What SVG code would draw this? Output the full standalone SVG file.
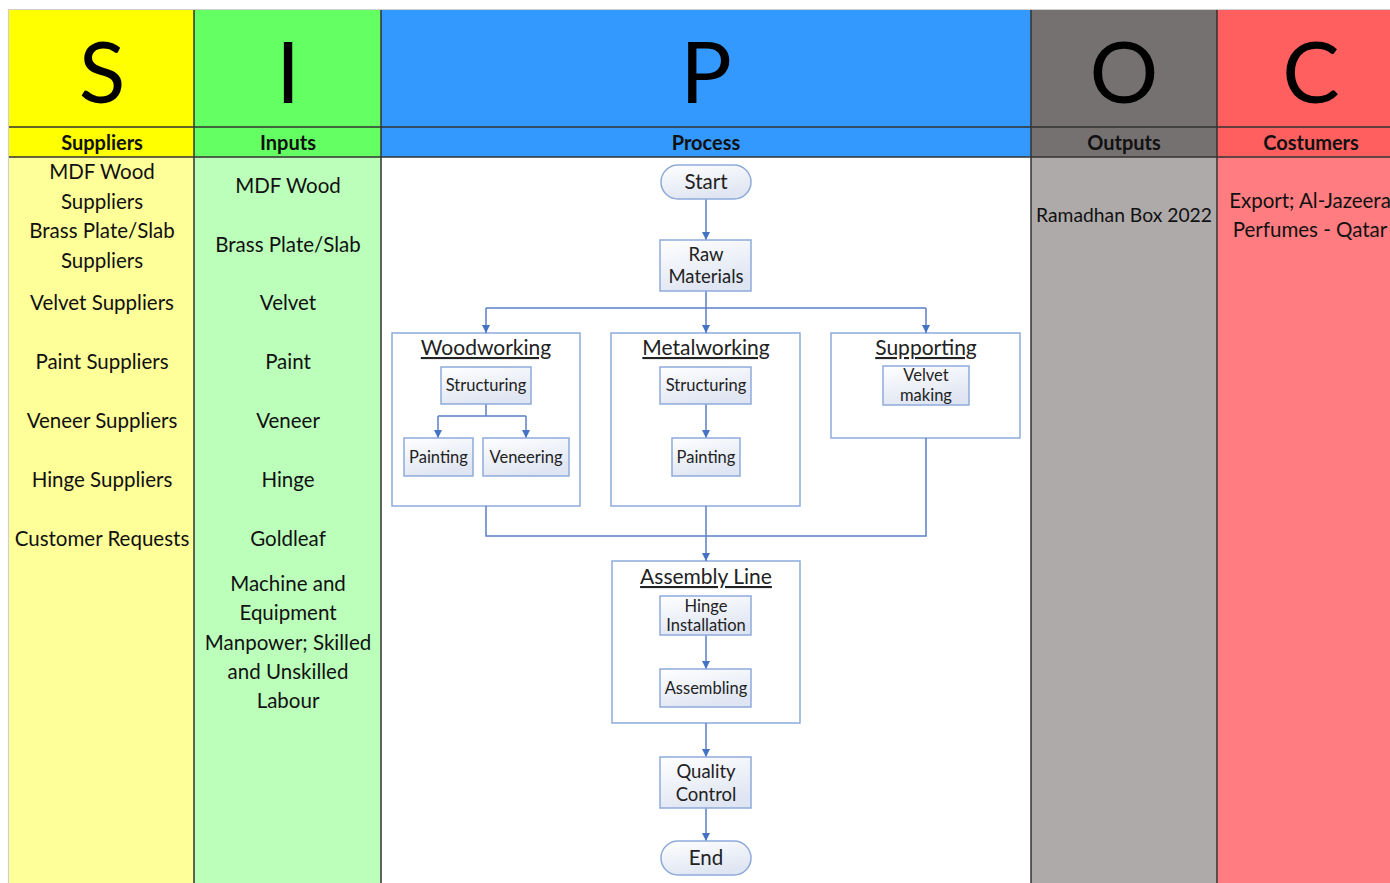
<svg xmlns="http://www.w3.org/2000/svg" width="1390" height="883" viewBox="0 0 1390 883">
<style>
.big{font-family:Lato,"Open Sans",sans-serif;font-size:86px;fill:#000;text-anchor:middle}
.hd{font-family:Lato,"Open Sans",sans-serif;font-size:20px;font-weight:bold;fill:#111;text-anchor:middle}
.bt{font-family:Lato,"Open Sans",sans-serif;font-size:20.5px;fill:#111;text-anchor:middle}
.bts{font-family:Lato,"Open Sans",sans-serif;font-size:19.3px;fill:#111;text-anchor:middle}
.grid{stroke:#333;stroke-width:1.5;fill:none}
.cont{fill:#fff;stroke:#8eaadb;stroke-width:1.5}
.nd{fill:url(#ng);stroke:#8eaadb;stroke-width:1.5}
.nt{font-family:Lato,"Open Sans",sans-serif;font-size:16.5px;fill:#222;text-anchor:middle}
.ntm{font-family:Lato,"Open Sans",sans-serif;font-size:18.5px;fill:#222;text-anchor:middle}
.ntl{font-family:Lato,"Open Sans",sans-serif;font-size:20.5px;fill:#222;text-anchor:middle}
.ttl{font-family:Lato,"Open Sans",sans-serif;font-size:21px;fill:#222;text-anchor:middle;text-decoration:underline}
.cn{stroke:#5b7fc7;stroke-width:1.5;fill:none}
.ar{stroke:#5b7fc7;stroke-width:1.5;fill:none;marker-end:url(#ah)}
</style>
<defs>
<linearGradient id="ng" x1="0" y1="0" x2="0.4" y2="1">
<stop offset="0" stop-color="#ffffff"/>
<stop offset="1" stop-color="#dfe5f2"/>
</linearGradient>
<marker id="ah" viewBox="0 0 10 10" refX="10" refY="5" markerWidth="8" markerHeight="8" markerUnits="userSpaceOnUse" orient="auto">
<path d="M0,0 L10,5 L0,10 z" fill="#4472c4"/>
</marker>
</defs>
<rect x="0" y="0" width="1390" height="883" fill="#fff"/>
<g id="columns">
<rect x="9" y="10" width="185" height="117" fill="#ffff00"/>
<rect x="9" y="127" width="185" height="30" fill="#ffff00"/>
<rect x="9" y="157" width="185" height="726" fill="#ffff99"/>
<rect x="194" y="10" width="187" height="147" fill="#63ff63"/>
<rect x="194" y="157" width="187" height="726" fill="#bbffbb"/>
<rect x="381" y="10" width="650" height="147" fill="#3399ff"/>
<rect x="381" y="157" width="650" height="726" fill="#ffffff"/>
<rect x="1031" y="10" width="186" height="147" fill="#767171"/>
<rect x="1031" y="157" width="186" height="726" fill="#aeaaaa"/>
<rect x="1217" y="10" width="173" height="147" fill="#ff5f5f"/>
<rect x="1217" y="157" width="173" height="726" fill="#ff7c80"/>
<path d="M8.5 9 V883 M8 9.5 H1390" stroke="#cfcfcf" stroke-width="1.2" fill="none"/>
<path class="grid" d="M194 10 V883 M381 10 V883 M1031 10 V883 M1217 10 V883 M9 127 H1390 M9 157 H381 M1031 157 H1390 M381 157 H1031"/>
</g>
<g id="headers">
<text class="big" x="102" y="103">S</text>
<text class="big" x="288" y="103">I</text>
<text class="big" x="706" y="103">P</text>
<text class="big" x="1124" y="103">O</text>
<text class="big" x="1311" y="103">C</text>
<text class="hd" x="102" y="150">Suppliers</text>
<text class="hd" x="288" y="150">Inputs</text>
<text class="hd" x="706" y="150">Process</text>
<text class="hd" x="1124" y="150">Outputs</text>
<text class="hd" x="1311" y="150">Costumers</text>
</g>
<g id="suppliers">
<text class="bt" x="102" y="179">MDF Wood</text>
<text class="bt" x="102" y="209">Suppliers</text>
<text class="bt" x="102" y="238">Brass Plate/Slab</text>
<text class="bt" x="102" y="268">Suppliers</text>
<text class="bt" x="102" y="310">Velvet Suppliers</text>
<text class="bt" x="102" y="369">Paint Suppliers</text>
<text class="bt" x="102" y="428">Veneer Suppliers</text>
<text class="bt" x="102" y="487">Hinge Suppliers</text>
<text class="bt" x="102" y="546">Customer Requests</text>
</g>
<g id="inputs">
<text class="bt" x="288" y="193">MDF Wood</text>
<text class="bt" x="288" y="252">Brass Plate/Slab</text>
<text class="bt" x="288" y="310">Velvet</text>
<text class="bt" x="288" y="369">Paint</text>
<text class="bt" x="288" y="428">Veneer</text>
<text class="bt" x="288" y="487">Hinge</text>
<text class="bt" x="288" y="546">Goldleaf</text>
<text class="bt" x="288" y="591">Machine and</text>
<text class="bt" x="288" y="620">Equipment</text>
<text class="bt" x="288" y="650">Manpower; Skilled</text>
<text class="bt" x="288" y="679">and Unskilled</text>
<text class="bt" x="288" y="708">Labour</text>
</g>
<g id="outputs">
<text class="bts" x="1124" y="222">Ramadhan Box 2022</text>
</g>
<g id="customers">
<text class="bt" x="1310" y="208">Export; Al-Jazeera</text>
<text class="bt" x="1310" y="237">Perfumes - Qatar</text>
</g>
<g id="woodworking">
<rect class="cont" x="392" y="333" width="188" height="173"/>
<text class="ttl" x="486" y="355">Woodworking</text>
</g>
<g id="metalworking">
<rect class="cont" x="611" y="333" width="189" height="173"/>
<text class="ttl" x="706" y="355">Metalworking</text>
</g>
<g id="supporting">
<rect class="cont" x="831" y="333" width="189" height="105"/>
<text class="ttl" x="926" y="355">Supporting</text>
</g>
<g id="assembly-line">
<rect class="cont" x="612" y="561" width="188" height="162"/>
<text class="ttl" x="706" y="584">Assembly Line</text>
</g>
<g id="connectors">
<path class="ar" d="M706 199 V240"/>
<path class="cn" d="M706 291 V308 M486 308 H926"/>
<path class="ar" d="M486 308 V333"/>
<path class="ar" d="M706 308 V333"/>
<path class="ar" d="M926 308 V333"/>
<path class="cn" d="M486 404 V416 M438 416 H526"/>
<path class="ar" d="M438 416 V438"/>
<path class="ar" d="M526 416 V438"/>
<path class="ar" d="M706 404 V438"/>
<path class="cn" d="M486 506 V536 H926 V438"/>
<path class="ar" d="M706 506 V561"/>
<path class="ar" d="M706 635 V669"/>
<path class="ar" d="M706 723 V757"/>
<path class="ar" d="M706 808 V841"/>
</g>
<g id="start">
<rect class="nd" x="661" y="165" width="90" height="34" rx="17"/>
<text class="ntl" x="706" y="189">Start</text>
</g>
<g id="raw-materials">
<rect class="nd" x="660" y="240" width="91" height="51"/>
<text class="ntm" x="706" y="261">Raw</text>
<text class="ntm" x="706" y="283">Materials</text>
</g>
<g id="wood-structuring">
<rect class="nd" x="441" y="367" width="90" height="37"/>
<text class="nt" x="486" y="391">Structuring</text>
</g>
<g id="wood-painting">
<rect class="nd" x="404" y="438" width="69" height="38"/>
<text class="nt" x="438.5" y="463">Painting</text>
</g>
<g id="wood-veneering">
<rect class="nd" x="483" y="438" width="86" height="38"/>
<text class="nt" x="526" y="463">Veneering</text>
</g>
<g id="metal-structuring">
<rect class="nd" x="660" y="367" width="91" height="37"/>
<text class="nt" x="706" y="391">Structuring</text>
</g>
<g id="metal-painting">
<rect class="nd" x="672" y="438" width="68" height="38"/>
<text class="nt" x="706" y="463">Painting</text>
</g>
<g id="velvet-making">
<rect class="nd" x="883" y="366" width="86" height="39"/>
<text class="nt" x="926" y="381">Velvet</text>
<text class="nt" x="926" y="401">making</text>
</g>
<g id="hinge-installation">
<rect class="nd" x="660" y="596" width="91" height="39"/>
<text class="nt" x="706" y="612">Hinge</text>
<text class="nt" x="706" y="631">Installation</text>
</g>
<g id="assembling">
<rect class="nd" x="660" y="669" width="91" height="38"/>
<text class="nt" x="706" y="694">Assembling</text>
</g>
<g id="quality-control">
<rect class="nd" x="660" y="757" width="91" height="51"/>
<text class="ntm" x="706" y="778">Quality</text>
<text class="ntm" x="706" y="801">Control</text>
</g>
<g id="end">
<rect class="nd" x="661" y="841" width="90" height="34" rx="17"/>
<text class="ntl" x="706" y="865">End</text>
</g>
</svg>
